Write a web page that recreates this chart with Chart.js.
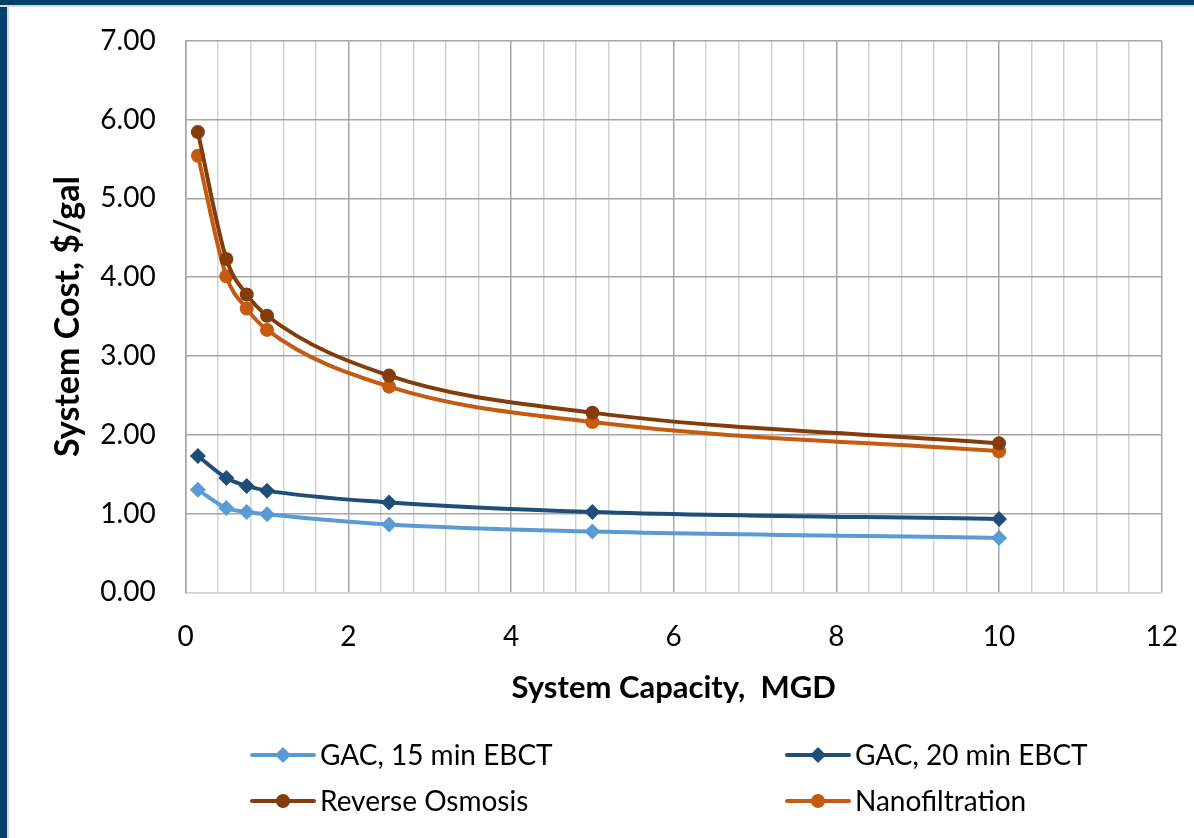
<!DOCTYPE html>
<html>
<head>
<meta charset="utf-8">
<title>System Cost vs System Capacity</title>
<script src="https://cdn.jsdelivr.net/npm/chart.js@4.4.1/dist/chart.umd.min.js"></script>
<style>
  html, body { margin: 0; padding: 0; background: #fff; }
  #wrap { position: relative; width: 1194px; height: 838px; overflow: hidden; }
  #costChart { position: absolute; left: 0; top: 0; }
  .frame { position: absolute; background: #00426b; pointer-events: none; }
  #frameTop { left: 0; top: 0; width: 1194px; height: 5px; border-bottom: 2px solid #d9d9d9; }
  #frameLeft { left: 0; top: 0; width: 7px; height: 838px; border-right: 2px solid #d9d9d9; }
</style>
</head>
<body>
<div id="wrap">
  <canvas id="costChart" width="1194" height="838"></canvas>
  <div class="frame" id="frameLeft"></div>
  <div class="frame" id="frameTop"></div>
</div>
<script>
// values
const capacity = [0.15, 0.5, 0.75, 1, 2.5, 5, 10]
const gac15 = [1.30, 1.07, 1.02, 0.99, 0.86, 0.77, 0.69]
const gac20 = [1.73, 1.45, 1.35, 1.29, 1.14, 1.02, 0.93]
const reverseOsmosis = [5.84, 4.23, 3.78, 3.51, 2.75, 2.28, 1.89]
const nanofiltration = [5.54, 4.01, 3.60, 3.33, 2.61, 2.16, 1.79]
const seriesLabels = ['GAC, 15 min EBCT', 'GAC, 20 min EBCT', 'Reverse Osmosis', 'Nanofiltration']
const xMax = 12
const xMinorStep = 0.4
const xLabelStep = 2
const yMax = 7
const yStep = 1

const FONT = 'Lato, "Open Sans", sans-serif'

function toPoints (values) {
  return capacity.map((x, i) => ({ x: x, y: values[i] }))
}

function isMajorX (v) {
  return Math.abs(v / xLabelStep - Math.round(v / xLabelStep)) < 1e-6
}

function makeDataset (label, values, color, pointStyle, radius) {
  return {
    label: label,
    data: toPoints(values),
    borderColor: color,
    backgroundColor: color,
    borderWidth: 4,
    pointStyle: pointStyle,
    pointRadius: radius,
    pointBorderWidth: 0,
    pointBackgroundColor: color,
    cubicInterpolationMode: 'monotone'
  }
}

// legend laid out as a 2x2 grid like the original
const gridLegend = {
  id: 'gridLegend',
  afterDraw (chart, args, opts) {
    const ctx = chart.ctx
    ctx.save()
    chart.data.datasets.forEach((ds, i) => {
      const col = i % 2
      const row = Math.floor(i / 2)
      const x = opts.columns[col]
      const y = opts.rows[row]
      ctx.strokeStyle = ds.borderColor
      ctx.fillStyle = ds.borderColor
      ctx.lineWidth = 4
      ctx.lineCap = 'round'
      ctx.beginPath()
      ctx.moveTo(x, y)
      ctx.lineTo(x + opts.lineLength, y)
      ctx.stroke()
      Chart.helpers.drawPoint(ctx, {
        pointStyle: ds.pointStyle,
        radius: ds.pointRadius,
        rotation: 0,
        borderWidth: 0
      }, x + opts.lineLength / 2, y)
      ctx.fillStyle = '#000'
      ctx.font = opts.font
      ctx.textBaseline = 'middle'
      ctx.textAlign = 'left'
      ctx.fillText(ds.label, x + opts.lineLength + opts.textGap, y + 1)
    })
    ctx.restore()
  }
}

function drawChart () {
  const ctx = document.getElementById('costChart').getContext('2d')
  new Chart(ctx, {
    type: 'line',
    data: {
      datasets: [
        makeDataset(seriesLabels[0], gac15, '#5b9bd5', 'rectRot', 8),
        makeDataset(seriesLabels[1], gac20, '#1f4e79', 'rectRot', 8),
        makeDataset(seriesLabels[2], reverseOsmosis, '#843c0c', 'circle', 7),
        makeDataset(seriesLabels[3], nanofiltration, '#c55a11', 'circle', 7)
      ]
    },
    options: {
      responsive: false,
      animation: false,
      layout: {
        padding: { top: 40.7, right: 32.3, bottom: 120.7, left: 0 }
      },
      scales: {
        x: {
          type: 'linear',
          min: 0,
          max: xMax,
          afterFit: scale => {
            scale.height = 125
            // keep the plot edges where the layout padding puts them
            scale.paddingLeft = 0
            scale.paddingRight = 0
          },
          ticks: {
            stepSize: xMinorStep,
            autoSkip: false,
            maxRotation: 0,
            padding: 28,
            color: '#000',
            font: { family: FONT, size: 28 },
            callback: v => isMajorX(v) ? String(Math.round(v)) : ''
          },
          grid: {
            drawTicks: false,
            lineWidth: 1.5,
            color: c => isMajorX(c.tick.value) ? '#a6a6a6' : '#d4d4d4'
          },
          border: { color: '#d4d4d4', width: 1.5 },
          title: {
            display: true,
            text: 'System Capacity,  MGD',
            color: '#000',
            padding: { top: 0, bottom: 10.7 },
            font: { family: FONT, size: 31, weight: 'bold' }
          }
        },
        y: {
          min: 0,
          max: yMax,
          afterFit: scale => {
            scale.width = 185.7
            scale.paddingTop = 0
            scale.paddingBottom = 0
          },
          ticks: {
            stepSize: yStep,
            padding: 30,
            color: '#000',
            font: { family: FONT, size: 28 },
            callback: v => v.toFixed(2)
          },
          grid: {
            drawTicks: false,
            lineWidth: 1.5,
            color: c => c.tick.value === 0 ? '#d4d4d4' : '#a6a6a6'
          },
          border: { color: '#a6a6a6', width: 1.5 },
          title: {
            display: true,
            text: 'System Cost, $/gal',
            color: '#000',
            padding: { top: 47.6, bottom: 0 },
            font: { family: FONT, size: 34, weight: 'bold' }
          }
        }
      },
      plugins: {
        legend: { display: false },
        tooltip: { enabled: false },
        gridLegend: {
          columns: [252, 787],
          rows: [755, 801],
          lineLength: 62,
          textGap: 6,
          font: '28px ' + FONT
        }
      }
    },
    plugins: [gridLegend]
  })
}

if (document.fonts && document.fonts.load) {
  Promise.all([
    document.fonts.load('28px Lato'),
    document.fonts.load('bold 28px Lato')
  ]).then(drawChart, drawChart)
} else {
  drawChart()
}
</script>
</body>
</html>
